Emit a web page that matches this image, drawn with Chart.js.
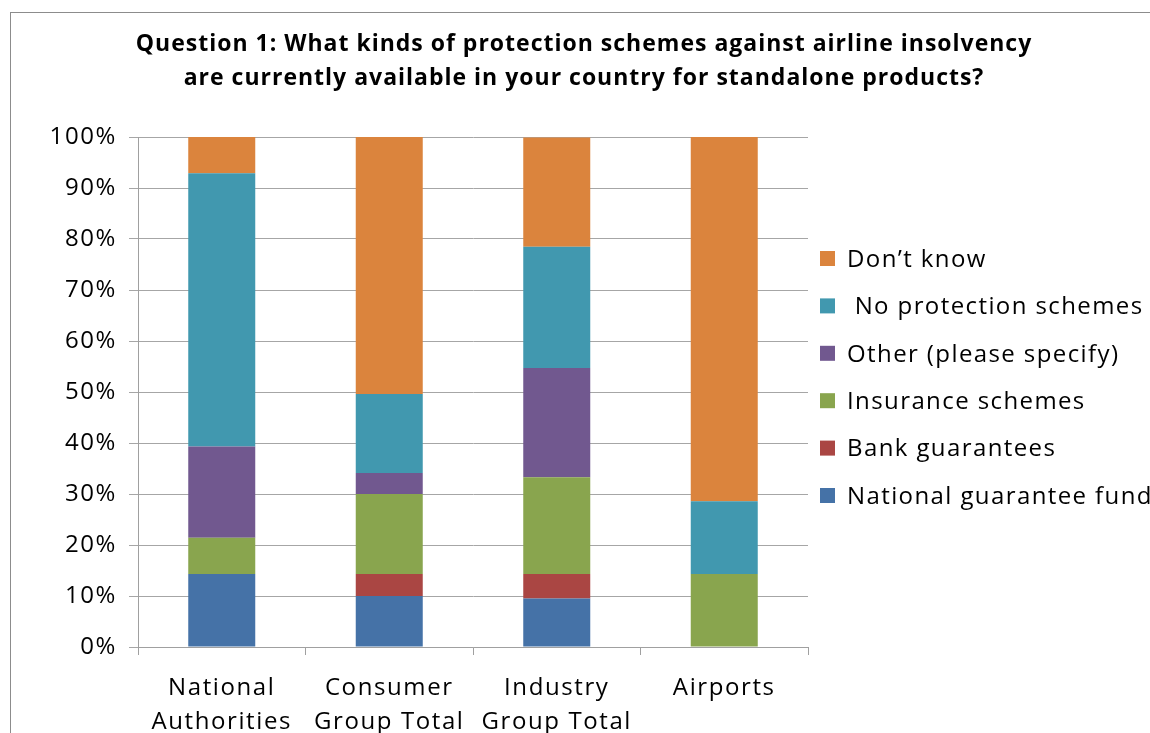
<!DOCTYPE html>
<html>
<head>
<meta charset="utf-8">
<script src="https://cdn.jsdelivr.net/npm/chart.js@4"></script>
<style>
  html, body { margin: 0; padding: 0; background: #fff; }
  #wrap { position: relative; width: 1150px; height: 733px; overflow: hidden; }
  #frame { position: absolute; left: 10px; top: 12px; width: 1200px; height: 800px; border: 1px solid #8c8c8c; box-sizing: border-box; }
  canvas { position: absolute; left: 0; top: 0; }
</style>
</head>
<body>
<div id="wrap">
  <div id="frame"></div>
  <canvas id="q1Chart" width="1150" height="733"></canvas>
</div>
<script>
// Survey answers, share of respondents per group (%)
const groups = [["National", "Authorities"], ["Consumer", "Group Total"], ["Industry", "Group Total"], "Airports"];
const nationalFund = [14.3, 10.0, 9.5, 0];
const bankGuarantees = [0, 4.3, 4.8, 0];
const insurance = [7.1, 15.7, 19.0, 14.3];
const otherSchemes = [17.9, 4.1, 21.4, 0];
const noProtection = [53.6, 15.5, 23.8, 14.3];
const dontKnow = [7.1, 50.4, 21.4, 71.4];
const yTicks = [0, 10, 20, 30, 40, 50, 60, 70, 80, 90, 100];

const FONT = "'Open Sans', 'Noto Sans', sans-serif";

// wide letter spacing for axis text, plus hand-drawn title and legend
const decorations = {
  id: "decorations",
  beforeDraw(chart) {
    chart.ctx.letterSpacing = "1.6px";
  },
  afterDraw(chart) {
    const c = chart.ctx;
    c.save();
    c.fillStyle = "#000";
    c.textAlign = "center";
    c.textBaseline = "middle";
    c.font = "bold 23px " + FONT;
    c.letterSpacing = "1px";
    c.fillText("Question 1: What kinds of protection schemes against airline insolvency", 584, 44);
    c.fillText("are currently available in your country for standalone products?", 584, 78);

    c.textAlign = "left";
    c.font = "24px " + FONT;
    c.letterSpacing = "1.4px";
    const sets = chart.data.datasets.slice().reverse();
    sets.forEach((ds, i) => {
      const y = 259 + i * 47.4;
      c.fillStyle = ds.backgroundColor;
      c.fillRect(820, y - 8, 15, 15);
      c.fillStyle = "#000";
      c.fillText(ds.label, 847, y + 1);
    });
    c.restore();
  }
};

new Chart(document.getElementById("q1Chart"), {
  type: "bar",
  data: {
    labels: groups,
    datasets: [
      { label: "National guarantee fund", data: nationalFund, backgroundColor: "#4572A7" },
      { label: "Bank guarantees", data: bankGuarantees, backgroundColor: "#AA4643" },
      { label: "Insurance schemes", data: insurance, backgroundColor: "#89A54E" },
      { label: "Other (please specify)", data: otherSchemes, backgroundColor: "#71588F" },
      { label: " No protection schemes", data: noProtection, backgroundColor: "#4198AF" },
      { label: "Don\u2019t know", data: dontKnow, backgroundColor: "#DB843D" }
    ]
  },
  options: {
    responsive: false,
    animation: false,
    layout: { padding: { left: 10, top: 137, right: 342, bottom: 0 } },
    datasets: { bar: { barPercentage: 0.4, categoryPercentage: 1.0 } },
    plugins: {
      legend: { display: false },
      title: { display: false },
      tooltip: { enabled: false }
    },
    scales: {
      x: {
        stacked: true,
        afterFit(scale) { scale.height = 86; },
        grid: { drawOnChartArea: false, drawTicks: true, tickLength: 8, color: "#a0a0a0" },
        border: { color: "#a0a0a0", width: 1 },
        ticks: { color: "#000", font: { family: FONT, size: 24, lineHeight: 1.38 }, padding: 17, maxRotation: 0, autoSkip: false }
      },
      y: {
        stacked: true,
        min: 0,
        max: 100,
        afterFit(scale) { scale.width = 128; },
        afterBuildTicks(scale) { scale.ticks = yTicks.map(v => ({ value: v })); },
        grid: { color: "#a6a6a6", tickLength: 9, lineWidth: 1 },
        border: { color: "#a0a0a0", width: 1 },
        ticks: {
          color: "#000",
          font: { family: FONT, size: 24 },
          padding: 12,
          callback: v => v + "%"
        }
      }
    }
  },
  plugins: [decorations]
});
</script>
</body>
</html>
